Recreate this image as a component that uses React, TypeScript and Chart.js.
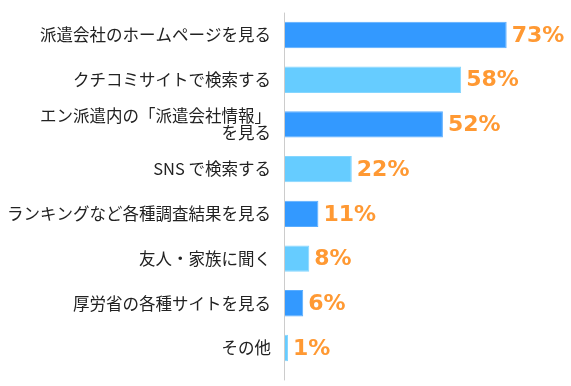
import React, { useEffect, useRef } from "react";
import { Chart, registerables } from "chart.js";

Chart.register(...registerables);

const categories: (string | string[])[] = [
  "派遣会社のホームページを見る",
  "クチコミサイトで検索する",
  ["エン派遣内の「派遣会社情報」", "を見る"],
  "SNS で検索する",
  "ランキングなど各種調査結果を見る",
  "友人・家族に聞く",
  "厚労省の各種サイトを見る",
  "その他",
];
const values = [73, 58, 52, 22, 11, 8, 6, 1];
const barColors = ["#3399FF", "#66CCFF", "#3399FF", "#66CCFF", "#3399FF", "#66CCFF", "#3399FF", "#66CCFF"];
const borderColors = ["#5AADFF", "#85D6FF", "#5AADFF", "#85D6FF", "#5AADFF", "#85D6FF", "#5AADFF", "#85D6FF"];

const valueLabelPlugin = {
  id: "valueLabels",
  afterDatasetsDraw(chart: any) {
    const ctx = chart.ctx;
    const meta = chart.getDatasetMeta(0);
    ctx.save();
    ctx.font = "bold 22px 'DejaVu Sans', Verdana, sans-serif";
    ctx.fillStyle = "#FF9933";
    ctx.textAlign = "left";
    ctx.textBaseline = "middle";
    meta.data.forEach((el: any, i: number) => {
      ctx.fillText(values[i] + "%", el.x + 5, el.y + 1);
    });
    ctx.restore();
  },
};

const axisLinePlugin = {
  id: "axisLine",
  afterDraw(chart: any) {
    const ctx = chart.ctx;
    const { left, top, bottom } = chart.chartArea;
    ctx.save();
    ctx.strokeStyle = "#CCCCCC";
    ctx.lineWidth = 1;
    ctx.beginPath();
    ctx.moveTo(Math.round(left) - 0.5, top);
    ctx.lineTo(Math.round(left) - 0.5, bottom + 10);
    ctx.stroke();
    ctx.restore();
  },
};

export default function App() {
  const ref = useRef<HTMLCanvasElement>(null);
  useEffect(() => {
    if (!ref.current) return;
    const chart = new Chart(ref.current, {
      type: "bar",
      data: {
        labels: categories,
        datasets: [
          {
            data: values,
            backgroundColor: barColors,
            borderColor: borderColors,
            borderWidth: 1,
            borderSkipped: "left",
            categoryPercentage: 1,
            barPercentage: 0.59,
          },
        ],
      },
      options: {
        indexAxis: "y",
        animation: false,
        responsive: false,
        maintainAspectRatio: false,
        layout: { padding: { top: 12.6, bottom: 15.6, right: 12.7, left: 0 } },
        plugins: { legend: { display: false }, tooltip: { enabled: false } },
        scales: {
          x: { display: false, min: 0, max: 90 },
          y: {
            afterFit: (scale: any) => {
              scale.width = 285;
              scale.paddingTop = 0;
              scale.paddingBottom = 0;
            },
            grid: { display: false, drawTicks: false },
            border: { display: false },
            ticks: {
              padding: 14,
              color: "#222222",
              font: { size: 16.5, family: "'Noto Sans CJK JP', sans-serif", lineHeight: 1.0 },
            },
          },
        },
      },
      plugins: [valueLabelPlugin, axisLinePlugin],
    });
    return () => chart.destroy();
  }, []);
  return (
    <div style={{ position: "fixed", left: 0, top: 0, width: 571, height: 386, background: "#fff" }}>
      <canvas ref={ref} width={571} height={386} />
    </div>
  );
}
